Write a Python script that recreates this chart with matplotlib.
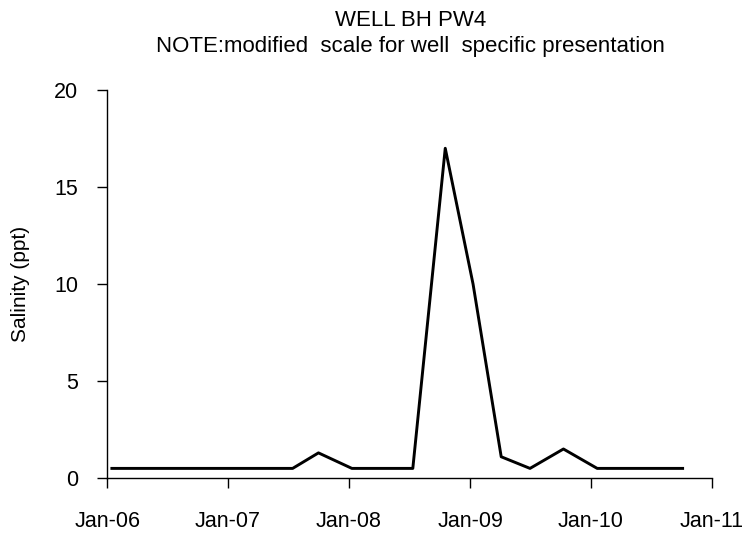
import matplotlib
matplotlib.use('agg')
import matplotlib.pyplot as plt
from datetime import datetime

# sample dates and salinity (ppt)
dates = ["2006-01-15", "2007-07-15", "2007-10-01", "2008-01-10", "2008-07-12",
         "2008-10-18", "2009-01-10", "2009-04-05", "2009-07-01", "2009-10-10",
         "2010-01-20", "2010-10-05"]
salinity = [0.5, 0.5, 1.3, 0.5, 0.5, 17.0, 10.0, 1.1, 0.5, 1.5, 0.5, 0.5]
year_ticks = ["2006-01-01", "2007-01-01", "2008-01-01", "2009-01-01", "2010-01-01", "2011-01-01"]
tick_labels = ["Jan-06", "Jan-07", "Jan-08", "Jan-09", "Jan-10", "Jan-11"]

plt.rcParams['font.family'] = ['Liberation Sans', 'DejaVu Sans']

x = [datetime.strptime(d, "%Y-%m-%d") for d in dates]
xt = [datetime.strptime(d, "%Y-%m-%d") for d in year_ticks]

fig = plt.figure(figsize=(7.5, 5.33), dpi=100)
ax = fig.add_axes([0.143, 0.103, 0.806, 0.728])
ax.plot(x, salinity, color='black', linewidth=2.1)

ax.set_xlim(xt[0], xt[-1])
ax.set_ylim(0, 20)
ax.set_xticks(xt)
ax.set_xticklabels(tick_labels)
ax.set_yticks([0, 5, 10, 15, 20])

for s in ['top', 'right']:
    ax.spines[s].set_visible(False)
for s in ['left', 'bottom']:
    ax.spines[s].set_linewidth(1.0)

ax.tick_params(axis='x', direction='out', length=7, width=1, pad=17, labelsize=15.5)
ax.tick_params(axis='y', direction='out', length=7, width=1, pad=14, labelsize=15.5)
ax.set_ylabel("Salinity (ppt)", fontsize=15)
ax.yaxis.set_label_coords(-0.128, 0.5)

fig.text(0.547, 0.962, "WELL BH PW4", ha='center', va='center', fontsize=16)
fig.text(0.547, 0.913, "NOTE:modified  scale for well  specific presentation",
         ha='center', va='center', fontsize=16)

fig.savefig("out.png", dpi=100)
